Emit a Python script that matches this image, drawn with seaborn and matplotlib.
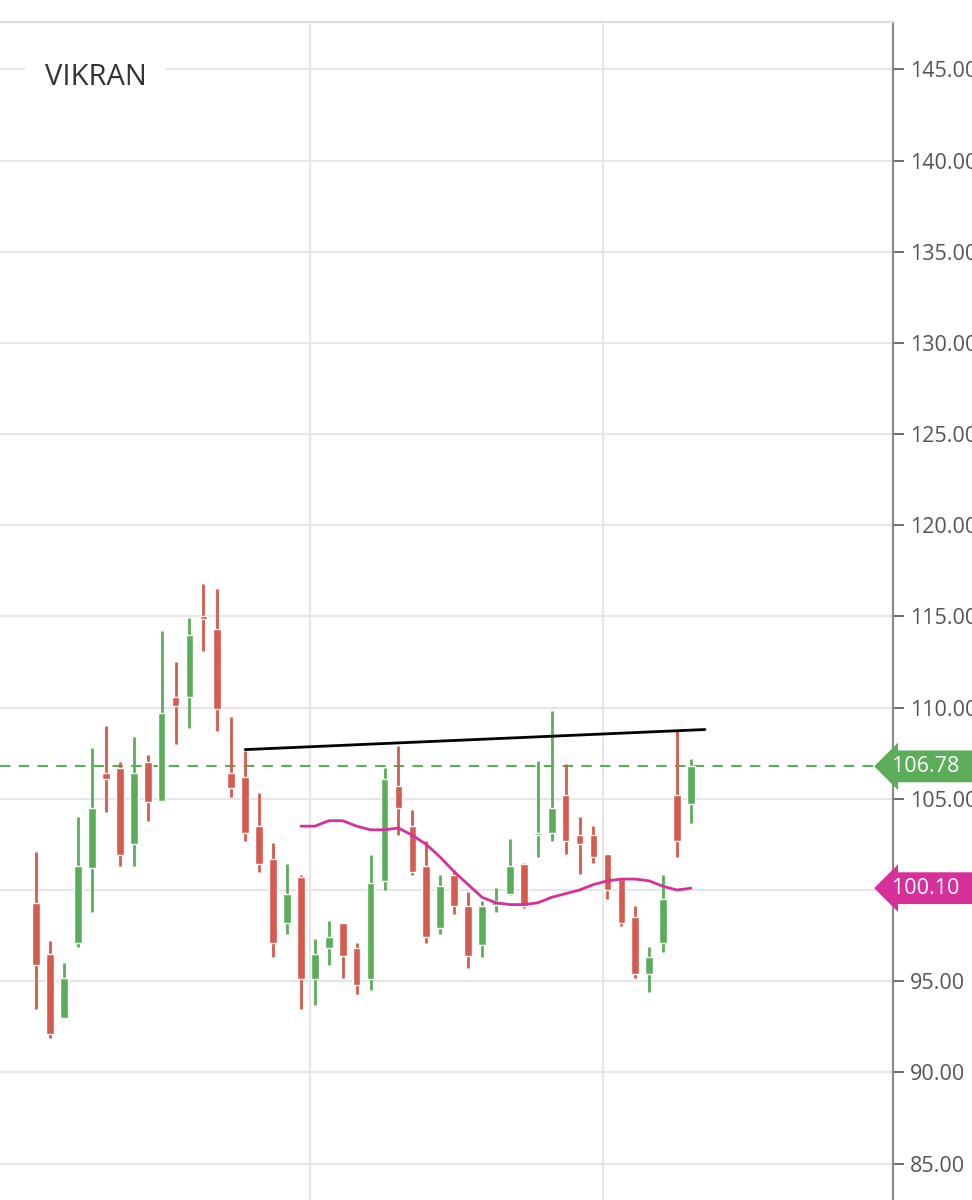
import matplotlib.pyplot as plt
import seaborn as sns
import numpy as np

sns.set_theme(style="whitegrid")
plt.rcParams['font.family'] = ['Open Sans', 'DejaVu Sans']

# OHLC data
opens = [99.3, 96.5, 93.0, 97.1, 101.2, 106.4, 106.7, 102.5, 107.0, 104.9,
         110.6, 110.6, 115.0, 114.3, 106.4, 106.2, 103.5, 101.7, 98.2, 100.7,
         95.1, 96.8, 98.2, 96.8, 95.1, 100.5, 105.7, 103.5, 101.3, 97.9,
         100.8, 99.1, 97.0, 99.2, 99.8, 101.4, 103.0, 103.1, 105.2, 103.0,
         103.0, 102.0, 100.6, 98.5, 95.4, 97.1, 105.2, 104.7]
highs = [102.1, 97.2, 96.0, 104.0, 107.8, 109.0, 107.0, 108.4, 107.4, 114.2,
         112.5, 114.9, 116.8, 116.5, 109.5, 107.6, 105.3, 102.6, 101.4, 100.8,
         97.3, 98.3, 98.2, 97.1, 101.9, 106.7, 107.9, 104.4, 102.7, 100.8,
         101.1, 99.9, 99.4, 100.1, 102.8, 101.5, 107.1, 109.8, 106.9, 104.0,
         103.5, 102.0, 100.6, 99.1, 96.9, 100.8, 108.8, 107.2]
lows = [93.5, 91.9, 93.0, 96.9, 98.8, 104.3, 101.3, 101.3, 103.8, 104.9,
        108.0, 108.9, 113.1, 108.7, 105.1, 102.7, 101.0, 96.3, 97.6, 93.5,
        93.7, 95.9, 95.2, 94.3, 94.5, 100.0, 103.0, 100.8, 97.1, 97.6,
        98.7, 95.7, 96.3, 98.8, 99.7, 99.0, 101.8, 102.7, 102.0, 100.9,
        101.5, 99.5, 98.0, 95.2, 94.4, 96.6, 101.8, 103.7]
closes = [95.9, 92.1, 95.2, 101.3, 104.5, 106.1, 101.9, 106.4, 104.8, 109.7,
          110.1, 114.0, 114.85, 109.9, 105.6, 103.1, 101.4, 97.1, 99.8, 95.1,
          96.5, 97.4, 96.4, 94.8, 100.4, 106.1, 104.5, 101.0, 97.4, 100.2,
          99.1, 96.4, 99.1, 99.4, 101.3, 99.1, 103.1, 104.5, 102.7, 102.5,
          101.8, 100.0, 98.2, 95.4, 96.3, 99.5, 102.7, 106.78]

# moving average (starts at candle 19)
ma_start = 19
ma_values = [103.5, 103.5, 103.8, 103.8, 103.5, 103.3, 103.3, 103.4, 103.0, 102.5,
             101.8, 101.0, 100.3, 99.6, 99.3, 99.2, 99.2, 99.3, 99.6, 99.8,
             100.0, 100.3, 100.5, 100.6, 100.6, 100.5, 100.2, 100.0, 100.1]

trend_x = [15, 48]
trend_y = [107.7, 108.8]

last_price = 106.78
ma_last = 100.10

green = '#5cad5a'
red = '#d65a4d'
magenta = '#d6309b'

fig = plt.figure(figsize=(9.72, 12), dpi=100)
ax = fig.add_axes([0, 0, 893 / 972, 1178 / 1200])

x = np.arange(len(opens))
o = np.array(opens); c = np.array(closes)
cols = [green if cc >= oo else red for oo, cc in zip(o, c)]
ax.vlines(x, lows, highs, colors=cols, linewidth=2, zorder=3)
body = np.maximum(np.abs(c - o), 0.15)
ax.bar(x, body, bottom=np.minimum(o, c), width=0.55, color=cols, zorder=4)

ax.plot(np.arange(ma_start, ma_start + len(ma_values)), ma_values, color=magenta, lw=2, zorder=5)
ax.plot(trend_x, trend_y, color='black', lw=2, zorder=5)
ax.axhline(last_price, color=green, ls=(0, (5, 4)), lw=1.5, zorder=2)

ax.set_xlim(-2.6, 61.5)
ax.set_ylim(83.0, 147.6)
ax.set_yticks(np.arange(85, 146, 5))
ax.set_yticklabels([f"{v:.2f}" for v in np.arange(85, 146, 5)])
ax.set_xticks([19.66, 40.7])
ax.set_xticklabels([])
ax.yaxis.tick_right()
ax.tick_params(axis='y', labelsize=15.5, colors='#555555', length=8, direction='out', pad=4, width=1.2)
ax.tick_params(axis='x', length=0)
ax.grid(color='#e6e6e6', lw=1.5)
for s in ['top', 'left', 'bottom']:
    ax.spines[s].set_visible(False)
ax.spines['right'].set_color('#888888')
ax.spines['right'].set_linewidth(1.5)
ax.spines['right'].set_visible(True)
fig.add_artist(plt.Line2D([0, 893 / 972], [1178 / 1200] * 2, color='#dddddd', lw=1.5))

ax.text(0.05, 0.953, 'VIKRAN', transform=ax.transAxes, fontsize=21, color='#333333',
        va='center', ha='left', bbox=dict(facecolor='white', edgecolor='none', pad=14))

for val, col in [(last_price, green), (ma_last, magenta)]:
    ax.annotate(f"{val:.2f}  ", xy=(1.0, val), xycoords=('axes fraction', 'data'),
                xytext=(-1, 0), textcoords='offset points', fontsize=15.5, color='white',
                va='center', ha='left', annotation_clip=False, zorder=10,
                bbox=dict(boxstyle='larrow,pad=0.25', facecolor=col, edgecolor='none'))

fig.savefig('out.png', dpi=100)
